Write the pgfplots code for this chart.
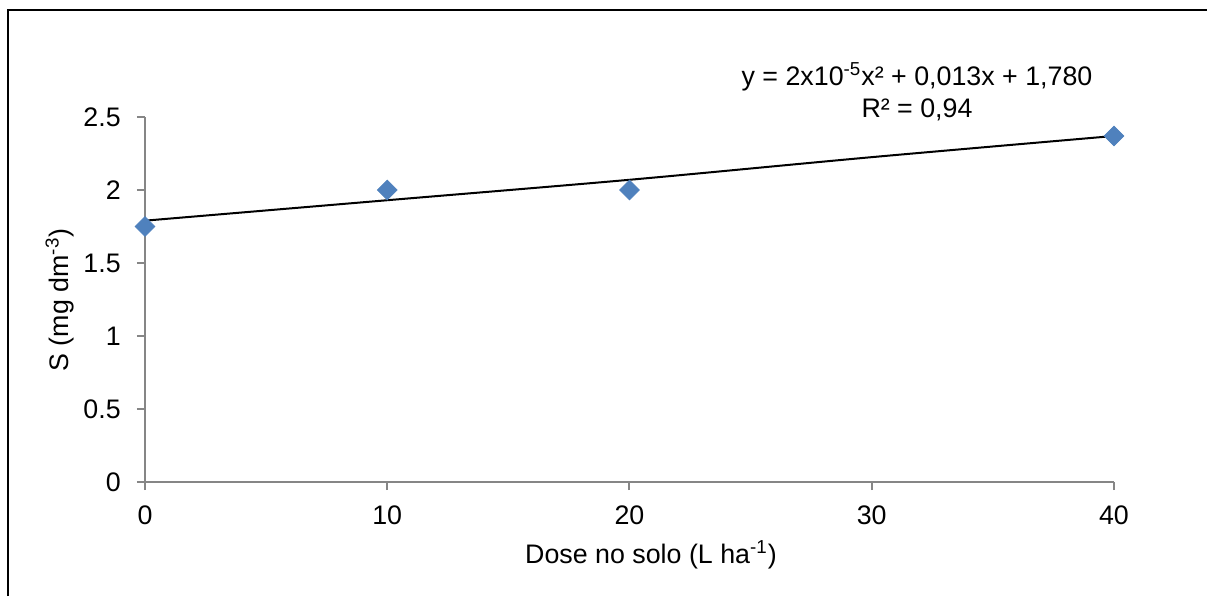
\documentclass[border=0pt]{standalone}
\usepackage{fontspec}
\setmainfont{Liberation Sans}
\usepackage{pgfplots}
\pgfplotsset{compat=1.18}
\definecolor{mk}{RGB}{79,129,189}
\definecolor{axgray}{RGB}{134,134,134}

\begin{document}
\fontsize{13.4}{16}\selectfont
\begin{tikzpicture}
  \useasboundingbox (0,0) rectangle (603.5pt,298pt);
  % frame (left and top edges)
  \draw[line width=1pt] (4.2pt,0) -- (4.2pt,293pt) -- (603.5pt,293pt);
  \begin{axis}[
      at={(72.5pt,57pt)}, anchor=south west,
      scale only axis,
      width=484.5pt, height=182.5pt,
      xmin=0, xmax=40,
      ymin=0, ymax=2.5,
      axis lines*=left,
      axis line style={axgray, line width=1pt},
      tick style={axgray, line width=1pt},
      tick align=outside,
      major tick length=4pt,
      xtick={0,10,20,30,40},
      ytick={0,0.5,1,1.5,2,2.5},
      yticklabels={0,0.5,1,1.5,2,2.5},
      /pgf/number format/assume math mode=true,
      ticklabel style={font=\fontsize{13.4}{16}\selectfont, black},
      yticklabel style={xshift=-3.5pt},
      xticklabel style={yshift=-3pt},
      clip=false,
    ]
    % dados observados
    \addplot[only marks, mark=square*, mark size=3.5pt,
      mark options={rotate=45, fill=mk, draw=mk}] coordinates {
      (0, 1.75)
      (10, 2.00)
      (20, 2.00)
      (40, 2.37)
    };
    % linha de tendencia
    \addplot[black, line width=1pt, smooth] coordinates {
      (0, 1.79)
      (10, 1.93)
      (20, 2.07)
      (30, 2.225)
      (40, 2.37)
    };
  \end{axis}
  \node at (325.5pt,20.5pt) {Dose no solo (L ha\textsuperscript{-1})};
  \node[rotate=90] at (30pt,148pt) {S (mg dm\textsuperscript{-3})};
  \node[align=center, inner sep=0pt] at (458.5pt,252pt)
    {y = 2x10\textsuperscript{-5}x² + 0,013x + 1,780\\R² = 0,94};
\end{tikzpicture}
\end{document}
